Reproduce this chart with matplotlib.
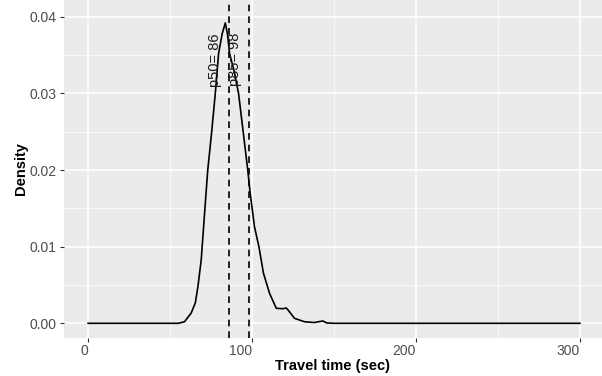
import matplotlib
matplotlib.use("Agg")
import matplotlib.pyplot as plt
import numpy as np

# density curve
travel_time = [0, 55, 58.8, 62.9, 65.4, 67.0, 69.0, 71.2, 73.0, 75.4, 77.6, 79.6,
               81.8, 83.7, 85.0, 86.3, 89.0, 91.8, 94.6, 97.4, 98.9, 101.5, 104.2,
               107.0, 110.7, 114.8, 118.8, 120.9, 122.5, 125.9, 132, 138, 143.2,
               145.5, 150, 300]
density = [0, 0, 0.0002, 0.00134, 0.00265, 0.00478, 0.00826, 0.01478, 0.0200,
           0.0250, 0.0300, 0.0352, 0.0378, 0.0392, 0.0378, 0.0352, 0.0330, 0.0300,
           0.0250, 0.0200, 0.01696, 0.0126, 0.0100, 0.00652, 0.00391, 0.00196,
           0.00190, 0.0020, 0.0016, 0.00065, 0.0002, 0.0001, 0.0003, 0.00005, 0, 0]

pct_names = ["p50", "p85"]
pct_values = [86, 98]

plt.rcParams['font.family'] = ['Liberation Sans', 'DejaVu Sans']

fig = plt.figure(figsize=(6.02, 3.76), dpi=100)
ax = fig.add_axes([63.5 / 602, 38 / 376, 1 - 63.5 / 602, 338 / 376])
ax.set_facecolor("#EBEBEB")
for s in ax.spines.values():
    s.set_visible(False)

ax.set_xlim(-15, 313.5)
ax.set_ylim(-0.00192, 0.0422)
ax.set_xticks([0, 100, 200, 300])
ax.set_xticks([50, 150, 250], minor=True)
ax.set_yticks([0, 0.01, 0.02, 0.03, 0.04])
ax.set_yticks([0.005, 0.015, 0.025, 0.035], minor=True)
ax.set_yticklabels(["0.00", "0.01", "0.02", "0.03", "0.04"])
ax.grid(which="major", color="white", lw=1.1)
ax.grid(which="minor", color="white", lw=0.55)
ax.set_axisbelow(True)
ax.tick_params(which="major", length=3, color="#333333", labelcolor="#4D4D4D",
               labelsize=10, width=0.8, pad=2)
ax.tick_params(axis="x", which="major", pad=1)
ax.tick_params(which="minor", length=0)
for lbl in ax.get_xticklabels():
    lbl.set_horizontalalignment("right")

ax.plot(travel_time, density, color="black", lw=1.2)

for name, v in zip(pct_names, pct_values):
    ax.axvline(v, color="black", lw=1.2, dashes=(4, 3))
    ax.text(v - 8.6, 0.0344, f"{name}= {v}", rotation=90, ha="center",
            va="center", fontsize=10.5, color="#1a1a1a")

ax.set_xlabel("Travel time (sec)", fontsize=10.5, fontweight="bold", labelpad=1)
ax.set_ylabel("Density", fontsize=10.5, fontweight="bold", labelpad=1)

fig.savefig("out.png", dpi=100)
